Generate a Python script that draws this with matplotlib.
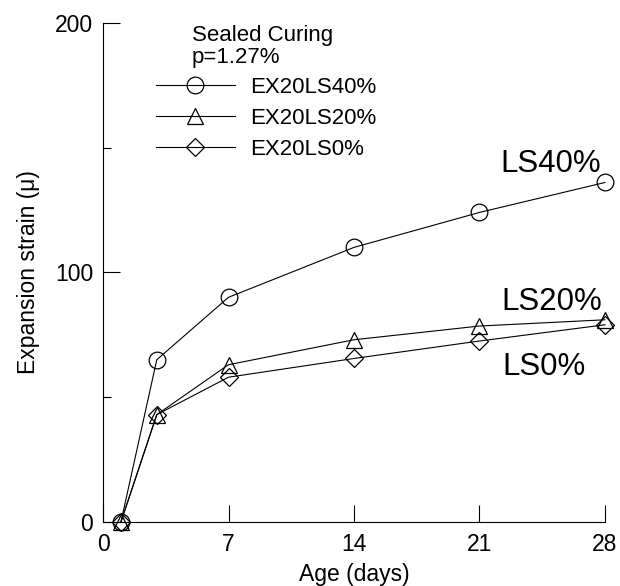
import matplotlib
matplotlib.use("Agg")
import matplotlib.pyplot as plt

plt.rcParams['font.family'] = ['Liberation Sans', 'DejaVu Sans']

# Data
days = [1, 3, 7, 14, 21, 28]
ls40 = [0, 65, 90, 110, 124, 136]
ls20 = [0, 43, 63, 73, 78.5, 81]
ls0 = [0, 43, 58, 65.5, 72.5, 79]
series_names = ["EX20LS40%", "EX20LS20%", "EX20LS0%"]
end_labels = ["LS40%", "LS20%", "LS0%"]
x_ticks = [0, 7, 14, 21, 28]
y_ticks = [0, 100, 200]
y_minor = [50, 150]

W, H = 620, 586
fig = plt.figure(figsize=(W / 100, H / 100), dpi=100)
ax = fig.add_axes([103 / W, 1 - 522 / H, (605 - 103) / W, (522 - 22.7) / H])

mstyle = dict(color='black', lw=0.8, mfc='none', mec='black', mew=0.9, clip_on=False)
l1, = ax.plot(days, ls40, marker='o', ms=12, **mstyle)
l2, = ax.plot(days, ls20, marker='^', ms=11, **mstyle)
l3, = ax.plot(days, ls0, marker='D', ms=9, **mstyle)

ax.set_xlim(0, 28)
ax.set_ylim(0, 200)
ax.set_xticks(x_ticks)
ax.set_yticks(y_ticks)
ax.set_yticks(y_minor, minor=True)
for s in ['top', 'right']:
    ax.spines[s].set_visible(False)
for s in ['left', 'bottom']:
    ax.spines[s].set_linewidth(0.8)
ax.tick_params(axis='both', which='major', direction='in', length=12, width=0.8,
               labelsize=16.5)
ax.tick_params(axis='x', pad=8)
ax.tick_params(axis='y', pad=7)
ax.tick_params(axis='y', which='minor', direction='in', length=6, width=0.8)
ax.patch.set_alpha(0)

ax.set_xlabel("Age (days)", fontsize=16.5, va='top')
ax.xaxis.set_label_coords(0.5, (522 - 563) / (522 - 22.7))
ax.set_ylabel("Expansion strain (μ)", fontsize=16.5, labelpad=11)

# End labels
ax.text(27.75, 143.5, end_labels[0], fontsize=22.5, ha='right', va='center')
ax.text(27.85, 88, end_labels[1], fontsize=22.5, ha='right', va='center')
ax.text(26.9, 62, end_labels[2], fontsize=22.5, ha='right', va='center')

# Legend title
fig.text(192 / W, 1 - 25 / H, "Sealed Curing\np=1.27%", fontsize=16, ha='left', va='top',
         linespacing=1.05)
leg = ax.legend([l1, l2, l3], series_names, loc='upper left',
                bbox_to_anchor=(156 / W, 1 - 77 / H), bbox_transform=fig.transFigure,
                frameon=False, fontsize=16, handlelength=3.55, handletextpad=0.7,
                labelspacing=0.45, borderpad=0, borderaxespad=0)

fig.savefig("out.png", dpi=100)
